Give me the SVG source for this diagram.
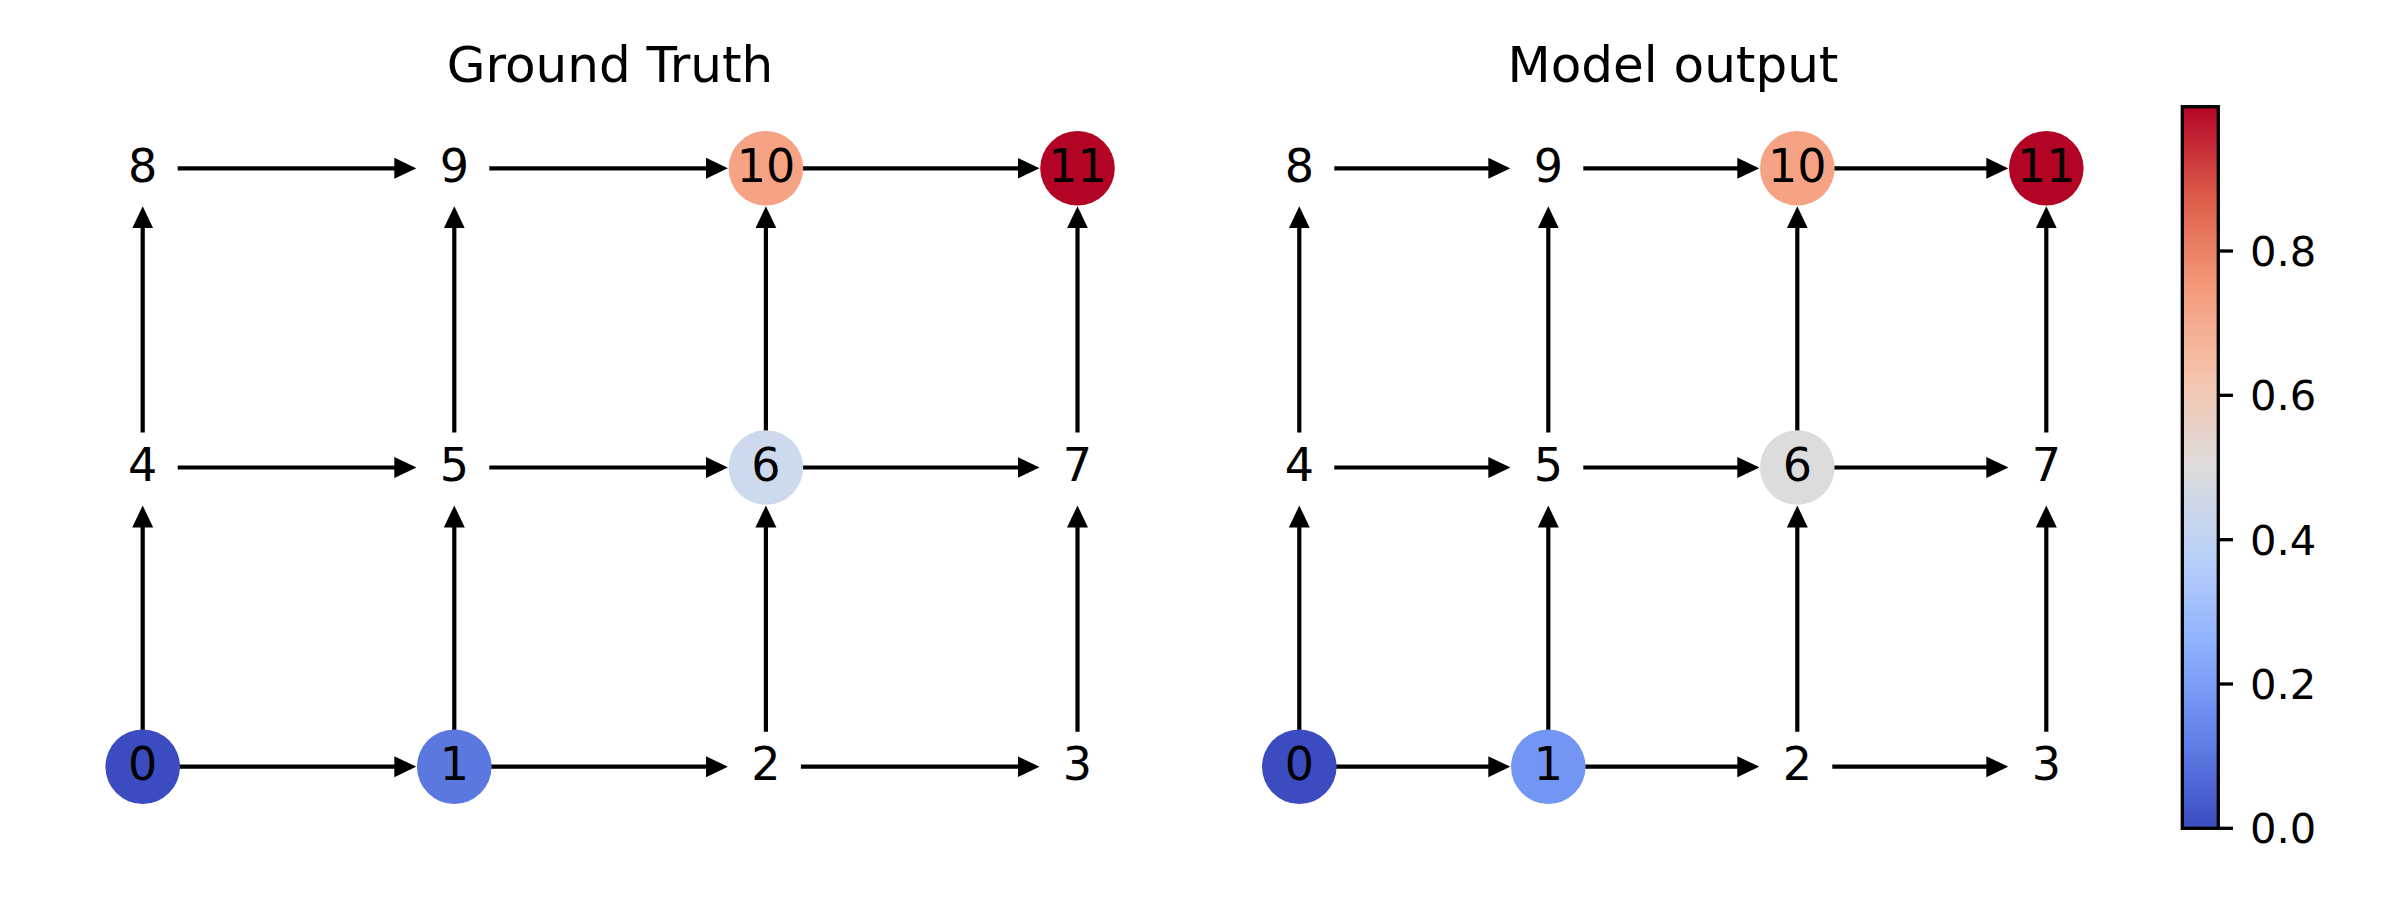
<svg xmlns="http://www.w3.org/2000/svg" width="2400" height="900" viewBox="0 0 2400 900">
  <style>
    .title { font-family: "DejaVu Sans", "Liberation Sans", sans-serif; font-size: 50px; fill: #000; text-anchor: middle; }
    .lbl { font-family: "DejaVu Sans", "Liberation Sans", sans-serif; font-size: 46px; fill: #000; text-anchor: middle; }
    .tick { font-family: "DejaVu Sans", "Liberation Sans", sans-serif; font-size: 41.7px; fill: #000; }
    .edge { stroke: #000; stroke-width: 4.2; fill: none; marker-end: url(#arrow); }
    .tk { stroke: #000; stroke-width: 3.3; }
  </style>
  <defs>
    <marker id="arrow" markerUnits="userSpaceOnUse" viewBox="0 -11 22 22" markerWidth="22" markerHeight="22" refX="10" refY="0" orient="auto">
      <path d="M0,-10.5 L22,0 L0,10.5 Z" fill="#000"/>
    </marker>
    <linearGradient id="coolwarm" x1="0" y1="1" x2="0" y2="0">
      <stop offset="0" stop-color="#3b4cc0"/>
      <stop offset="0.125" stop-color="#6282ea"/>
      <stop offset="0.25" stop-color="#8db0fe"/>
      <stop offset="0.375" stop-color="#b8d0f9"/>
      <stop offset="0.5" stop-color="#dddcdc"/>
      <stop offset="0.625" stop-color="#f5c4ac"/>
      <stop offset="0.75" stop-color="#f49a7b"/>
      <stop offset="0.875" stop-color="#dc5d4a"/>
      <stop offset="1" stop-color="#b40426"/>
    </linearGradient>
  </defs>
  <rect width="2400" height="900" fill="#fff"/>

  <text class="title" x="610" y="81.7">Ground Truth</text>
  <text class="title" x="1673" y="81.7">Model output</text>

  <!-- Left graph: columns 142.7, 454.3, 765.9, 1077.5; rows 766.7, 467.5, 168.3 -->
  <g id="gt-edges">
    <line class="edge" x1="177.7" y1="766.7" x2="404.3" y2="766.7"/>
    <line class="edge" x1="489.3" y1="766.7" x2="715.9" y2="766.7"/>
    <line class="edge" x1="800.9" y1="766.7" x2="1027.5" y2="766.7"/>
    <line class="edge" x1="177.7" y1="467.5" x2="404.3" y2="467.5"/>
    <line class="edge" x1="489.3" y1="467.5" x2="715.9" y2="467.5"/>
    <line class="edge" x1="800.9" y1="467.5" x2="1027.5" y2="467.5"/>
    <line class="edge" x1="177.7" y1="168.3" x2="404.3" y2="168.3"/>
    <line class="edge" x1="489.3" y1="168.3" x2="715.9" y2="168.3"/>
    <line class="edge" x1="800.9" y1="168.3" x2="1027.5" y2="168.3"/>
    <line class="edge" x1="142.7" y1="731.7" x2="142.7" y2="517.5"/>
    <line class="edge" x1="142.7" y1="432.5" x2="142.7" y2="218.3"/>
    <line class="edge" x1="454.3" y1="731.7" x2="454.3" y2="517.5"/>
    <line class="edge" x1="454.3" y1="432.5" x2="454.3" y2="218.3"/>
    <line class="edge" x1="765.9" y1="731.7" x2="765.9" y2="517.5"/>
    <line class="edge" x1="765.9" y1="432.5" x2="765.9" y2="218.3"/>
    <line class="edge" x1="1077.5" y1="731.7" x2="1077.5" y2="517.5"/>
    <line class="edge" x1="1077.5" y1="432.5" x2="1077.5" y2="218.3"/>
  </g>
  <g id="gt-n0"><circle cx="142.7" cy="766.7" r="37.3" fill="#3b4cc0"/><text class="lbl" x="142.7" y="780.1">0</text></g>
  <g id="gt-n1"><circle cx="454.3" cy="766.7" r="37.3" fill="#5a78e0"/><text class="lbl" x="454.3" y="780.1">1</text></g>
  <g id="gt-n2"><text class="lbl" x="765.9" y="780.1">2</text></g>
  <g id="gt-n3"><text class="lbl" x="1077.5" y="780.1">3</text></g>
  <g id="gt-n4"><text class="lbl" x="142.7" y="480.9">4</text></g>
  <g id="gt-n5"><text class="lbl" x="454.3" y="480.9">5</text></g>
  <g id="gt-n6"><circle cx="765.9" cy="467.5" r="37.3" fill="#cdd9ec"/><text class="lbl" x="765.9" y="480.9">6</text></g>
  <g id="gt-n7"><text class="lbl" x="1077.5" y="480.9">7</text></g>
  <g id="gt-n8"><text class="lbl" x="142.7" y="181.7">8</text></g>
  <g id="gt-n9"><text class="lbl" x="454.3" y="181.7">9</text></g>
  <g id="gt-n10"><circle cx="765.9" cy="168.3" r="37.3" fill="#f6a385"/><text class="lbl" x="765.9" y="181.7">10</text></g>
  <g id="gt-n11"><circle cx="1077.5" cy="168.3" r="37.3" fill="#b40426"/><text class="lbl" x="1077.5" y="181.7">11</text></g>

  <!-- Right graph: columns 1299.3, 1548.3, 1797.3, 2046.3 -->
  <g id="out-edges">
    <line class="edge" x1="1334.3" y1="766.7" x2="1498.3" y2="766.7"/>
    <line class="edge" x1="1583.3" y1="766.7" x2="1747.3" y2="766.7"/>
    <line class="edge" x1="1832.3" y1="766.7" x2="1996.3" y2="766.7"/>
    <line class="edge" x1="1334.3" y1="467.5" x2="1498.3" y2="467.5"/>
    <line class="edge" x1="1583.3" y1="467.5" x2="1747.3" y2="467.5"/>
    <line class="edge" x1="1832.3" y1="467.5" x2="1996.3" y2="467.5"/>
    <line class="edge" x1="1334.3" y1="168.3" x2="1498.3" y2="168.3"/>
    <line class="edge" x1="1583.3" y1="168.3" x2="1747.3" y2="168.3"/>
    <line class="edge" x1="1832.3" y1="168.3" x2="1996.3" y2="168.3"/>
    <line class="edge" x1="1299.3" y1="731.7" x2="1299.3" y2="517.5"/>
    <line class="edge" x1="1299.3" y1="432.5" x2="1299.3" y2="218.3"/>
    <line class="edge" x1="1548.3" y1="731.7" x2="1548.3" y2="517.5"/>
    <line class="edge" x1="1548.3" y1="432.5" x2="1548.3" y2="218.3"/>
    <line class="edge" x1="1797.3" y1="731.7" x2="1797.3" y2="517.5"/>
    <line class="edge" x1="1797.3" y1="432.5" x2="1797.3" y2="218.3"/>
    <line class="edge" x1="2046.3" y1="731.7" x2="2046.3" y2="517.5"/>
    <line class="edge" x1="2046.3" y1="432.5" x2="2046.3" y2="218.3"/>
  </g>
  <g id="out-n0"><circle cx="1299.3" cy="766.7" r="37.3" fill="#3b4cc0"/><text class="lbl" x="1299.3" y="780.1">0</text></g>
  <g id="out-n1"><circle cx="1548.3" cy="766.7" r="37.3" fill="#7396f5"/><text class="lbl" x="1548.3" y="780.1">1</text></g>
  <g id="out-n2"><text class="lbl" x="1797.3" y="780.1">2</text></g>
  <g id="out-n3"><text class="lbl" x="2046.3" y="780.1">3</text></g>
  <g id="out-n4"><text class="lbl" x="1299.3" y="480.9">4</text></g>
  <g id="out-n5"><text class="lbl" x="1548.3" y="480.9">5</text></g>
  <g id="out-n6"><circle cx="1797.3" cy="467.5" r="37.3" fill="#dcdcdc"/><text class="lbl" x="1797.3" y="480.9">6</text></g>
  <g id="out-n7"><text class="lbl" x="2046.3" y="480.9">7</text></g>
  <g id="out-n8"><text class="lbl" x="1299.3" y="181.7">8</text></g>
  <g id="out-n9"><text class="lbl" x="1548.3" y="181.7">9</text></g>
  <g id="out-n10"><circle cx="1797.3" cy="168.3" r="37.3" fill="#f6a385"/><text class="lbl" x="1797.3" y="181.7">10</text></g>
  <g id="out-n11"><circle cx="2046.3" cy="168.3" r="37.3" fill="#b40426"/><text class="lbl" x="2046.3" y="181.7">11</text></g>

  <!-- Colour bar -->
  <g id="colorbar">
    <rect x="2182.3" y="106.7" width="36" height="721.6" fill="url(#coolwarm)" stroke="#000" stroke-width="3.3"/>
    <line class="tk" x1="2218.3" y1="828.3" x2="2233" y2="828.3"/>
    <line class="tk" x1="2218.3" y1="684" x2="2233" y2="684"/>
    <line class="tk" x1="2218.3" y1="539.7" x2="2233" y2="539.7"/>
    <line class="tk" x1="2218.3" y1="395.3" x2="2233" y2="395.3"/>
    <line class="tk" x1="2218.3" y1="251" x2="2233" y2="251"/>
    <text class="tick" x="2250" y="843.3">0.0</text>
    <text class="tick" x="2250" y="699">0.2</text>
    <text class="tick" x="2250" y="554.7">0.4</text>
    <text class="tick" x="2250" y="410.3">0.6</text>
    <text class="tick" x="2250" y="266">0.8</text>
  </g>
</svg>
